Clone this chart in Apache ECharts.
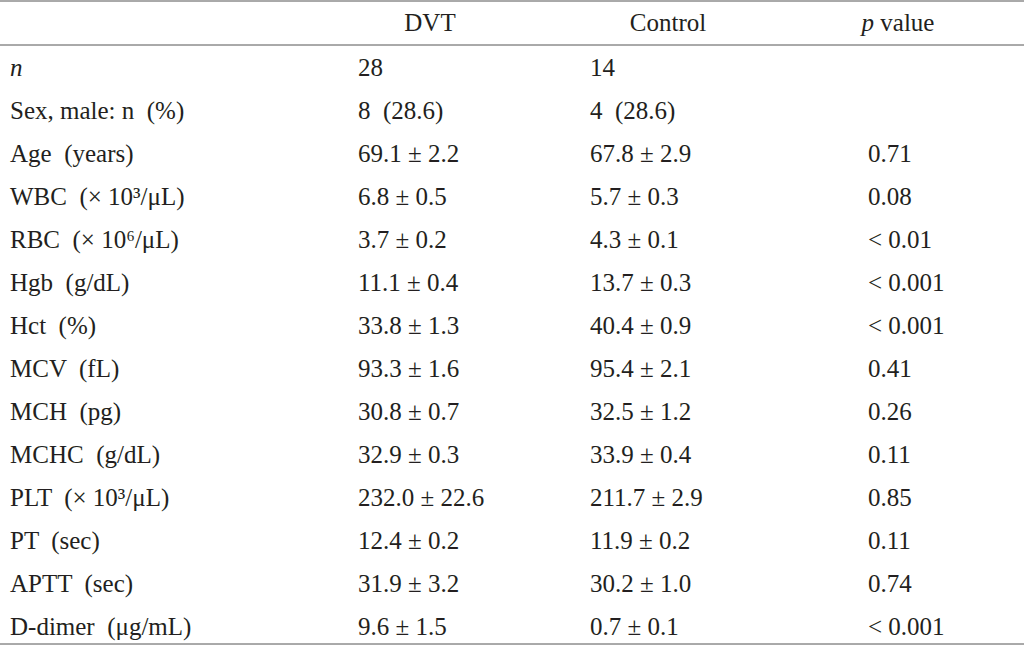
<!DOCTYPE html>
<html><head><meta charset="utf-8">
<script src="https://cdn.jsdelivr.net/npm/echarts@6/dist/echarts.min.js"></script>
<style>html,body{margin:0;padding:0;background:#fff}#c{width:1024px;height:645px}</style>
</head><body><div id="c"></div>
<script>
var headers = ['', 'DVT', 'Control', '{i|p} value'];
var labels = ['{i|n}', 'Sex, male: n  (%)', 'Age  (years)', 'WBC  (× 10³/μL)', 'RBC  (× 10⁶/μL)', 'Hgb  (g/dL)',
  'Hct  (%)', 'MCV  (fL)', 'MCH  (pg)', 'MCHC  (g/dL)', 'PLT  (× 10³/μL)', 'PT  (sec)', 'APTT  (sec)', 'D-dimer  (μg/mL)'];
var dvt = ['28', '8  (28.6)', '69.1 ± 2.2', '6.8 ± 0.5', '3.7 ± 0.2', '11.1 ± 0.4', '33.8 ± 1.3', '93.3 ± 1.6',
  '30.8 ± 0.7', '32.9 ± 0.3', '232.0 ± 22.6', '12.4 ± 0.2', '31.9 ± 3.2', '9.6 ± 1.5'];
var control = ['14', '4  (28.6)', '67.8 ± 2.9', '5.7 ± 0.3', '4.3 ± 0.1', '13.7 ± 0.3', '40.4 ± 0.9', '95.4 ± 2.1',
  '32.5 ± 1.2', '33.9 ± 0.4', '211.7 ± 2.9', '11.9 ± 0.2', '30.2 ± 1.0', '0.7 ± 0.1'];
var pvals = ['', '', '0.71', '0.08', '< 0.01', '< 0.001', '< 0.001', '0.41', '0.26', '0.11', '0.85', '0.11', '0.74', '< 0.001'];

var font = '"Liberation Serif", "DejaVu Serif", serif';
var ink = '#231f20';
var fs = 25;
var rich = { i: { fontStyle: 'italic', fontFamily: font, fontSize: fs, fill: ink } };
var colX = [10, 358, 590, 868];
var headX = [0, 430, 668, 898];
var els = [];
function txt(x, y, s, align) {
  els.push({ type: 'text', x: x, y: y, style: { text: s, fontFamily: font, fontSize: fs, fill: ink,
    textAlign: align || 'left', textVerticalAlign: 'middle', rich: rich } });
}
function line(y) {
  els.push({ type: 'line', shape: { x1: 0, y1: y, x2: 1024, y2: y }, style: { stroke: '#555', lineWidth: 1 } });
}
line(1); line(45); line(644);
for (var h = 1; h < headers.length; h++) txt(headX[h], 22, headers[h], 'center');
for (var r = 0; r < labels.length; r++) {
  var y = 67 + r * 43;
  txt(colX[0], y, labels[r]);
  txt(colX[1], y, dvt[r]);
  txt(colX[2], y, control[r]);
  txt(colX[3], y, pvals[r]);
}
var chart = echarts.init(document.getElementById('c'), null, { renderer: 'svg' });
chart.setOption({ animation: false, graphic: { elements: els } });
window.addEventListener('resize', function() { chart.resize(); });
</script></body></html>
